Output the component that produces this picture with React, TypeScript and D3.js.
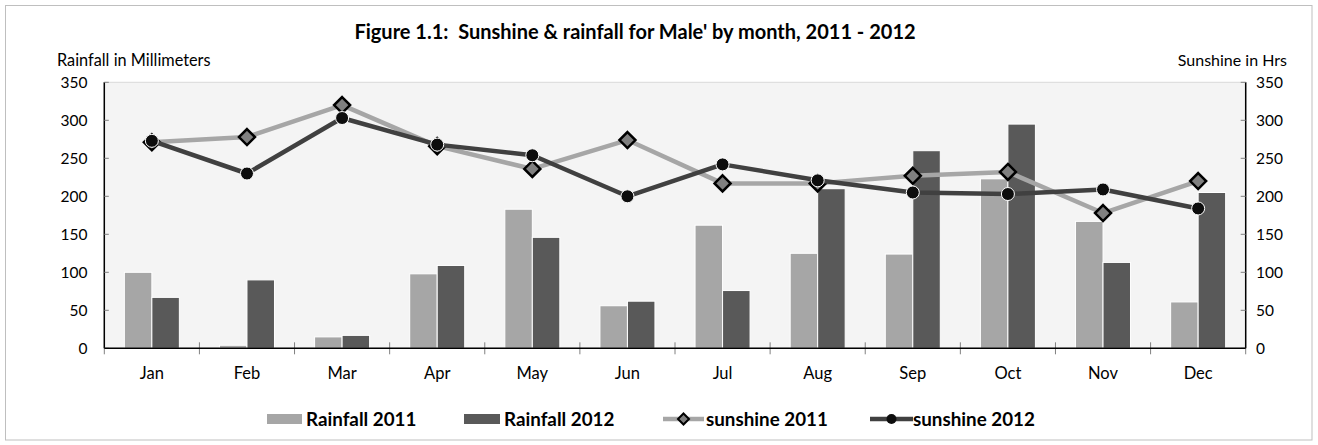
import React from "react";
import * as d3 from "d3";

const months = ["Jan", "Feb", "Mar", "Apr", "May", "Jun", "Jul", "Aug", "Sep", "Oct", "Nov", "Dec"];
const rain2011 = [100, 4, 15, 98, 183, 56, 162, 125, 124, 223, 167, 61];
const rain2012 = [67, 90, 17, 109, 146, 62, 76, 210, 260, 295, 113, 205];
const sun2011 = [271, 278, 320, 266, 236, 274, 217, 217, 227, 232, 178, 220];
const sun2012 = [273, 230, 303, 268, 254, 200, 242, 221, 205, 203, 209, 184];
const yTicks = [0, 50, 100, 150, 200, 250, 300, 350];

const W = 1318;
const H = 445;
const left = 104.3;
const right = 1245.7;
const top = 82.3;
const bottom = 348.3;
const FONT = "Lato, 'Open Sans', sans-serif";

export default function App() {
  const x = d3.scaleBand<string>().domain(months).range([left, right]);
  const y = d3.scaleLinear().domain([0, 350]).range([bottom, top]);
  const groupW = 55;
  const inner = d3.scaleBand<string>().domain(["r11", "r12"]).range([0, groupW]);
  const off = (x.bandwidth() - groupW) / 2;
  const cx = (m: string) => (x(m) as number) + x.bandwidth() / 2;

  const line = d3
    .line<number>()
    .x((_, i) => cx(months[i]))
    .y((v) => y(v));

  const diamond = (px: number, py: number, r: number) =>
    `M${px},${py - r}L${px + r},${py}L${px},${py + r}L${px - r},${py}Z`;

  const boundaries = months.map((m) => x(m) as number).concat([right]);

  return (
    <svg width={W} height={H} style={{ position: "absolute", left: 0, top: 0 }} fontFamily={FONT}>
      <rect x={0} y={0} width={W} height={H} fill="#ffffff" />
      <rect x={5.5} y={5.5} width={1306.5} height={434.5} fill="none" stroke="#bfbfbf" strokeWidth={1} />
      {/* plot area */}
      <rect x={left} y={top} width={right - left} height={bottom - top} fill="#f4f4f4" stroke="#d9d9d9" strokeWidth={1} />

      {/* title */}
      <text x={635} y={39} textAnchor="middle" fontSize={20} fontWeight="bold" fill="#000">
        {"Figure 1.1:\u00a0 Sunshine & rainfall for Male' by month, 2011 - 2012"}
      </text>
      <text x={57} y={66} fontSize={16.3} fill="#000">Rainfall in Millimeters</text>
      <text x={1287} y={66} fontSize={16} fill="#000" textAnchor="end">Sunshine in Hrs</text>

      {/* bars */}
      {months.map((m, i) => (
        <g key={m}>
          <rect
            x={(x(m) as number) + off + (inner("r11") as number)}
            y={y(rain2011[i])}
            width={inner.bandwidth()}
            height={bottom - y(rain2011[i])}
            fill="#a6a6a6"
            stroke="#ffffff"
            strokeWidth={1}
          />
          <rect
            x={(x(m) as number) + off + (inner("r12") as number)}
            y={y(rain2012[i])}
            width={inner.bandwidth()}
            height={bottom - y(rain2012[i])}
            fill="#595959"
            stroke="#ffffff"
            strokeWidth={1}
          />
        </g>
      ))}

      {/* axes */}
      <line x1={left} x2={left} y1={top} y2={bottom} stroke="#000" strokeWidth={1.5} />
      <line x1={right} x2={right} y1={top} y2={bottom} stroke="#000" strokeWidth={1.5} />
      {yTicks.map((t) => (
        <g key={t}>
          <line x1={left} x2={left + 4.5} y1={y(t)} y2={y(t)} stroke="#808080" strokeWidth={1} />
          <line x1={right - 5} x2={right} y1={y(t)} y2={y(t)} stroke="#808080" strokeWidth={1} />
          <text x={87.5} y={y(t)} dy="0.35em" textAnchor="end" fontSize={15.5} fill="#000">{t}</text>
          <text x={1256} y={y(t)} dy="0.35em" textAnchor="start" fontSize={15.5} fill="#000">{t}</text>
        </g>
      ))}
      {boundaries.map((b, i) => (
        <line
          key={i}
          x1={b}
          x2={b}
          y1={i === 0 || i === boundaries.length - 1 ? bottom : bottom - 6}
          y2={bottom + 6}
          stroke="#808080"
          strokeWidth={1}
        />
      ))}
      <line x1={left} x2={right} y1={bottom} y2={bottom} stroke="#000" strokeWidth={1.5} />
      {months.map((m) => (
        <text key={m} x={cx(m)} y={373} dy="0.35em" textAnchor="middle" fontSize={16.5} fill="#000">{m}</text>
      ))}

      {/* sunshine lines */}
      <path d={line(sun2011) || ""} fill="none" stroke="#a6a6a6" strokeWidth={4.5} strokeLinejoin="round" />
      {sun2011.map((v, i) => (
        <path key={i} d={diamond(cx(months[i]), y(v), 8)} fill="#808080" stroke="#000" strokeWidth={2.5} strokeLinejoin="miter" />
      ))}
      <path d={line(sun2012) || ""} fill="none" stroke="#404040" strokeWidth={4.5} strokeLinejoin="round" />
      {sun2012.map((v, i) => (
        <circle key={i} cx={cx(months[i])} cy={y(v)} r={6.5} fill="#0d0d0d" stroke="#ffffff" strokeWidth={1} />
      ))}

      {/* legend */}
      <g fontSize={18.8} fontWeight="bold" fill="#000">
        <rect x={267} y={414} width={35} height={10} fill="#a6a6a6" />
        <text x={306} y={419} dy="0.35em">Rainfall 2011</text>
        <rect x={464} y={414} width={36} height={10} fill="#595959" />
        <text x={504} y={419} dy="0.35em">Rainfall 2012</text>
        <line x1={663} x2={704} y1={419} y2={419} stroke="#a6a6a6" strokeWidth={4.5} />
        <path d={diamond(683.5, 419, 5.5)} fill="#808080" stroke="#000" strokeWidth={2} />
        <text x={706} y={419} dy="0.35em">sunshine 2011</text>
        <line x1={870} x2={913} y1={419} y2={419} stroke="#404040" strokeWidth={4.5} />
        <circle cx={891.5} cy={419} r={5} fill="#0d0d0d" />
        <text x={913} y={419} dy="0.35em">sunshine 2012</text>
      </g>
    </svg>
  );
}
